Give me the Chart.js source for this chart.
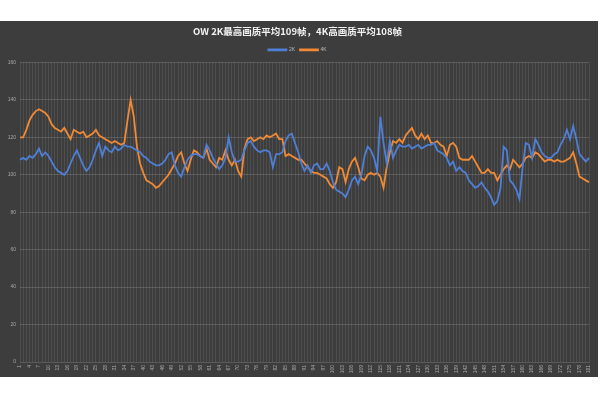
<!DOCTYPE html>
<html>
<head>
<meta charset="utf-8">
<script src="https://cdn.jsdelivr.net/npm/chart.js@4"></script>
<style>
    body { margin: 0; background: #fff; }
    .panel { position: absolute; left: 0; top: 21px; width: 598px; height: 356px; background: #3d3d3d; }
</style>
</head>
<body>
<div class="panel"><canvas id="fpsChart" width="598" height="356"></canvas></div>
<script>
// 帧数数据
const frames = Array.from({ length: 181 }, (_, i) => String(i + 1));

const fps2k = [
    108, 109, 108, 110, 109, 111, 114, 110, 112, 110, 107, 104, 102, 101, 100, 102, 106, 110, 113, 109,
    105, 102, 104, 108, 113, 117, 110, 115, 113, 112, 115, 113, 114, 116, 115, 115, 114, 113, 112, 110,
    109, 107, 106, 105, 105, 106, 108, 111, 112, 105, 101, 99, 104, 108, 110, 111, 111, 110, 109, 116,
    113, 109, 106, 103, 105, 109, 120, 112, 107, 107, 108, 113, 117, 118, 115, 113, 112, 113, 113, 112,
    104, 111, 111, 112, 118, 121, 122, 117, 112, 106, 102, 105, 101, 105, 106, 103, 103, 106, 102, 96,
    92, 91, 90, 88, 92, 97, 99, 95, 100, 110, 115, 113, 109, 102, 131, 117, 106, 118, 109, 113,
    116, 115, 115, 116, 114, 115, 116, 114, 115, 116, 116, 117, 113, 112, 111, 109, 105, 107, 102, 104,
    102, 101, 97, 95, 93, 94, 96, 93, 91, 88, 84, 86, 93, 115, 113, 97, 95, 92, 87, 104,
    117, 116, 109, 119, 116, 112, 110, 109, 109, 111, 112, 116, 119, 124, 119, 126, 119, 111, 109, 107,
    109
];

const fps4k = [
    120, 120, 124, 129, 132, 134, 135, 134, 133, 131, 127, 125, 124, 123, 125, 122, 119, 124, 123, 122,
    123, 120, 121, 122, 124, 121, 120, 119, 118, 117, 118, 117, 116, 117, 129, 140, 131, 115, 106, 101,
    97, 96, 95, 93, 94, 96, 98, 100, 103, 106, 110, 112, 106, 102, 108, 113, 112, 110, 109, 114,
    108, 106, 104, 109, 108, 113, 108, 105, 108, 102, 99, 114, 119, 120, 118, 119, 120, 119, 121, 120,
    121, 122, 119, 119, 110, 111, 110, 109, 108, 108, 106, 104, 102, 101, 101, 100, 99, 98, 95, 93,
    96, 104, 103, 96, 103, 107, 109, 104, 98, 97, 100, 101, 100, 101, 99, 93, 104, 112, 118, 117,
    119, 117, 121, 123, 125, 121, 119, 122, 119, 121, 117, 117, 118, 116, 115, 110, 116, 117, 115, 109,
    108, 108, 108, 110, 107, 104, 101, 101, 103, 101, 101, 97, 100, 103, 105, 103, 108, 106, 104, 106,
    109, 110, 109, 112, 111, 109, 107, 108, 108, 107, 108, 107, 107, 108, 109, 112, 106, 99, 98, 97,
    96
];

const yTicks = [0, 20, 40, 60, 80, 100, 120, 140, 160];

const ctx = document.getElementById('fpsChart');
new Chart(ctx, {
    type: 'line',
    data: {
        labels: frames,
        datasets: [{
            label: '2K',
            data: fps2k,
            borderColor: '#4f7fd6',
            borderWidth: 1.8,
            pointRadius: 0,
            tension: 0
        }, {
            label: '4K',
            data: fps4k,
            borderColor: '#f08a35',
            borderWidth: 1.8,
            pointRadius: 0,
            tension: 0
        }]
    },
    options: {
        responsive: false,
        animation: false,
        layout: { padding: { left: 0, right: 3, top: 5, bottom: 0 } },
        plugins: {
            title: {
                display: true,
                text: 'OW 2K最高画质平均109帧，4K高画质平均108帧',
                color: '#f2f2f2',
                font: { family: 'Noto Sans CJK SC', size: 9.5, weight: 'bold' },
                padding: { top: 0, bottom: 5 }
            },
            legend: {
                labels: {
                    color: '#bbbbbb',
                    font: { size: 5 },
                    boxWidth: 18,
                    boxHeight: 1,
                    padding: 5
                }
            },
            tooltip: { enabled: false }
        },
        scales: {
            y: {
                min: 0,
                max: 160,
                afterBuildTicks: scale => { scale.ticks = yTicks.map(v => ({ value: v })); },
                afterFit: scale => { scale.width = 20; },
                ticks: { color: '#a8a8a8', font: { size: 5 }, padding: 4 },
                grid: { color: '#5a5a5a', drawTicks: false },
                border: { display: false }
            },
            x: {
                afterFit: scale => { scale.height = 15; },
                ticks: {
                    color: '#a8a8a8',
                    font: { size: 5 },
                    autoSkip: false,
                    maxRotation: 90,
                    minRotation: 90,
                    padding: 3,
                    callback: function(val, index) {
                        return index % 3 === 0 ? this.getLabelForValue(val) : '';
                    }
                },
                grid: { color: 'rgba(255,255,255,0.09)', drawTicks: false },
                border: { color: '#5a5a5a' }
            }
        }
    }
});
</script>
</body>
</html>
